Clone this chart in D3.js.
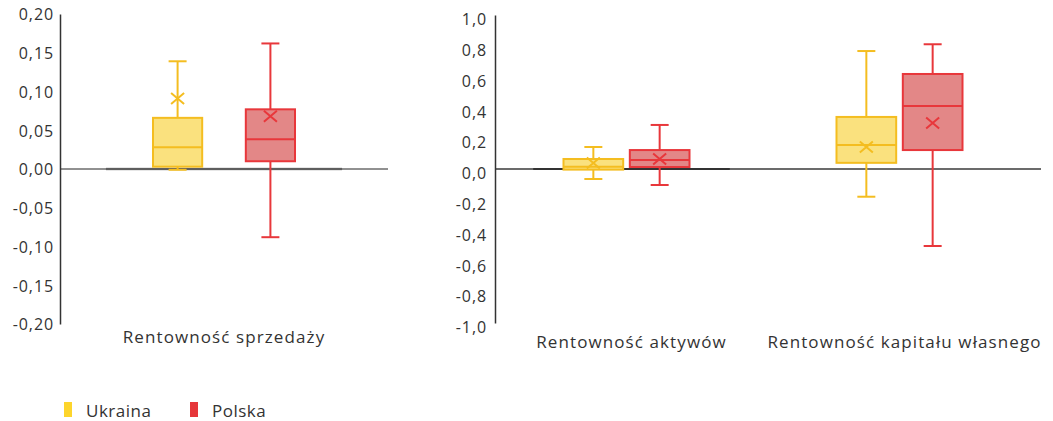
<!DOCTYPE html>
<html>
<head>
<meta charset="utf-8">
<script src="https://cdn.jsdelivr.net/npm/d3@7"></script>
<style>
  body { margin: 0; background: #fff; }
  text { font-family: "Open Sans", sans-serif; fill: #333; }
</style>
</head>
<body>
<div id="chart"></div>
<script>
// Categories and series
var leftCategories = ["Rentowność sprzedaży"];
var rightCategories = ["Rentowność aktywów", "Rentowność kapitału własnego"];
var seriesNames = ["Ukraina", "Polska"];

// Box stats, order: sprzedaży, aktywów, kapitału własnego
var ukrMin    = [-0.001, -0.065, -0.18];
var ukrQ1     = [0.003, -0.004, 0.040];
var ukrMedian = [0.028, 0.015, 0.156];
var ukrQ3     = [0.066, 0.065, 0.338];
var ukrMax    = [0.139, 0.143, 0.766];
var ukrMean   = [0.091, 0.039, 0.143];

var polMin    = [-0.088, -0.104, -0.50];
var polQ1     = [0.010, 0.013, 0.123];
var polMedian = [0.0385, 0.058, 0.409];
var polQ3     = [0.077, 0.123, 0.617];
var polMax    = [0.162, 0.286, 0.810];
var polMean   = [0.068, 0.065, 0.299];

// Tick values
var leftTicks = [-0.20, -0.15, -0.10, -0.05, 0, 0.05, 0.10, 0.15, 0.20];
var rightTicks = [-1, -0.8, -0.6, -0.4, -0.2, 0, 0.2, 0.4, 0.6, 0.8, 1];

var svgWidth = 1053;
var svgHeight = 421;

var strokeColors = { "Ukraina": "#f4bd20", "Polska": "#e8373b" };
var fillColors = { "Ukraina": "#fae17e", "Polska": "#e38787" };
var legendColors = { "Ukraina": "#fdd52c", "Polska": "#e6363a" };

var plLocale = d3.formatLocale({ decimal: ",", thousands: " ", grouping: [3], currency: ["", " zł"], minus: "-" });

var svg = d3.select("#chart")
  .append("svg")
  .attr("width", svgWidth)
  .attr("height", svgHeight);

// build rows for a panel
function rows(cats, offset) {
  var out = [];
  cats.forEach(function(c, i) {
    var k = i + offset;
    out.push({ cat: c, series: "Ukraina", min: ukrMin[k], q1: ukrQ1[k], median: ukrMedian[k], q3: ukrQ3[k], max: ukrMax[k], mean: ukrMean[k] });
    out.push({ cat: c, series: "Polska", min: polMin[k], q1: polQ1[k], median: polMedian[k], q3: polQ3[k], max: polMax[k], mean: polMean[k] });
  });
  return out;
}

function drawPanel(opt) {
  var g = svg.append("g");

  var y = d3.scaleLinear().domain(opt.domain).range([opt.bottom, opt.top]);
  var x = d3.scaleBand().domain(opt.cats).range([opt.left, opt.right]);
  var xSub = d3.scaleBand().domain(seriesNames).range([-opt.pair, opt.pair]).paddingInner(opt.gap);

  function zeroLine() {
    g.append("line")
      .attr("x1", opt.left).attr("x2", opt.right)
      .attr("y1", y(0)).attr("y2", y(0))
      .attr("stroke", opt.zeroColor).attr("stroke-width", opt.zeroWidth);
  }

  // zero line + category band segment
  if (!opt.segmentsUnder) zeroLine();
  opt.segments.forEach(function(s) {
    var cx = x(s.cat) + x.bandwidth() / 2;
    g.append("line")
      .attr("x1", cx - x.bandwidth() * 0.36).attr("x2", cx + x.bandwidth() * 0.36)
      .attr("y1", y(0)).attr("y2", y(0))
      .attr("stroke", s.color).attr("stroke-width", s.width);
  });
  if (opt.segmentsUnder) zeroLine();

  // y axis
  var axis = g.append("g")
    .attr("transform", "translate(" + opt.left + ",0)")
    .call(d3.axisLeft(y).tickValues(opt.ticks).tickSize(0).tickPadding(opt.pad).tickFormat(plLocale.format(opt.fmt)));
  axis.select(".domain").attr("stroke", "#333").attr("stroke-width", 1.5);
  axis.selectAll("text")
    .style("font-family", "'Open Sans', sans-serif")
    .style("font-size", "16px")
    .style("letter-spacing", "0.9px")
    .attr("fill", "#333")
    .attr("dy", opt.labelDy);

  var data = rows(opt.cats, opt.offset);
  var boxes = g.selectAll(".box").data(data).enter().append("g")
    .attr("transform", function(d) {
      return "translate(" + (x(d.cat) + x.bandwidth() / 2 + opt.shift + xSub(d.series) + xSub.bandwidth() / 2) + ",0)";
    });
  var bw = xSub.bandwidth();
  var cap = 9;

  // whiskers
  boxes.append("line")
    .attr("x1", 0).attr("x2", 0)
    .attr("y1", d => y(d.max)).attr("y2", d => y(d.q3))
    .attr("stroke", d => strokeColors[d.series]).attr("stroke-width", 2);
  boxes.append("line")
    .attr("x1", 0).attr("x2", 0)
    .attr("y1", d => y(d.q1)).attr("y2", d => y(d.min))
    .attr("stroke", d => strokeColors[d.series]).attr("stroke-width", 2);
  boxes.append("line")
    .attr("x1", -cap).attr("x2", cap)
    .attr("y1", d => y(d.max)).attr("y2", d => y(d.max))
    .attr("stroke", d => strokeColors[d.series]).attr("stroke-width", 2);
  boxes.append("line")
    .attr("x1", -cap).attr("x2", cap)
    .attr("y1", d => y(d.min)).attr("y2", d => y(d.min))
    .attr("stroke", d => strokeColors[d.series]).attr("stroke-width", 2);

  // box
  boxes.append("rect")
    .attr("x", -bw / 2).attr("width", bw)
    .attr("y", d => y(d.q3))
    .attr("height", d => y(d.q1) - y(d.q3))
    .attr("fill", d => fillColors[d.series])
    .attr("stroke", d => strokeColors[d.series]).attr("stroke-width", 2);
  boxes.append("line")
    .attr("x1", -bw / 2).attr("x2", bw / 2)
    .attr("y1", d => y(d.median)).attr("y2", d => y(d.median))
    .attr("stroke", d => strokeColors[d.series]).attr("stroke-width", 2);

  // mean marker
  var m = 6.5;
  boxes.append("path")
    .attr("d", d => "M" + (-m) + "," + (y(d.mean) - m * 0.85) + "L" + m + "," + (y(d.mean) + m * 0.85) +
                    "M" + (-m) + "," + (y(d.mean) + m * 0.85) + "L" + m + "," + (y(d.mean) - m * 0.85))
    .attr("fill", "none")
    .attr("stroke", d => strokeColors[d.series]).attr("stroke-width", 2);

  // category labels
  g.selectAll(".cat").data(opt.cats).enter().append("text")
    .attr("x", d => x(d) + x.bandwidth() / 2)
    .attr("y", opt.catY)
    .attr("text-anchor", "middle")
    .attr("dominant-baseline", "central")
    .style("font-size", "17px")
    .style("letter-spacing", "1.1px")
    .text(d => d);
}

drawPanel({
  cats: leftCategories, offset: 0,
  domain: [-0.2, 0.2], top: 14, bottom: 324,
  left: 60, right: 388, pair: 71, gap: 0.47, shift: 0,
  ticks: leftTicks, fmt: ".2f", pad: 6, labelDy: "0.36em",
  zeroColor: "#222", zeroWidth: 1,
  segments: [{ cat: leftCategories[0], color: "#9a9a9a", width: 2.4 }],
  segmentsUnder: true,
  catY: 336
});

drawPanel({
  cats: rightCategories, offset: 1,
  domain: [-1, 1], top: 15, bottom: 323,
  left: 495, right: 1041, pair: 63, gap: 0.1, shift: -5,
  ticks: rightTicks, fmt: ".1f", pad: 8, labelDy: "0.6em",
  zeroColor: "#6b6b6b", zeroWidth: 2,
  segments: [{ cat: rightCategories[0], color: "#333", width: 2 }],
  segmentsUnder: false,
  catY: 341
});

// legend
var legend = svg.append("g");
var legendX = [64, 190];
seriesNames.forEach(function(s, i) {
  legend.append("rect")
    .attr("x", legendX[i]).attr("y", 402)
    .attr("width", 8).attr("height", 15)
    .attr("fill", legendColors[s]);
  legend.append("text")
    .attr("x", legendX[i] + 22).attr("y", 410)
    .attr("dominant-baseline", "central")
    .style("font-size", "17px")
    .style("letter-spacing", "0.5px")
    .text(s);
});
</script>
</body>
</html>
